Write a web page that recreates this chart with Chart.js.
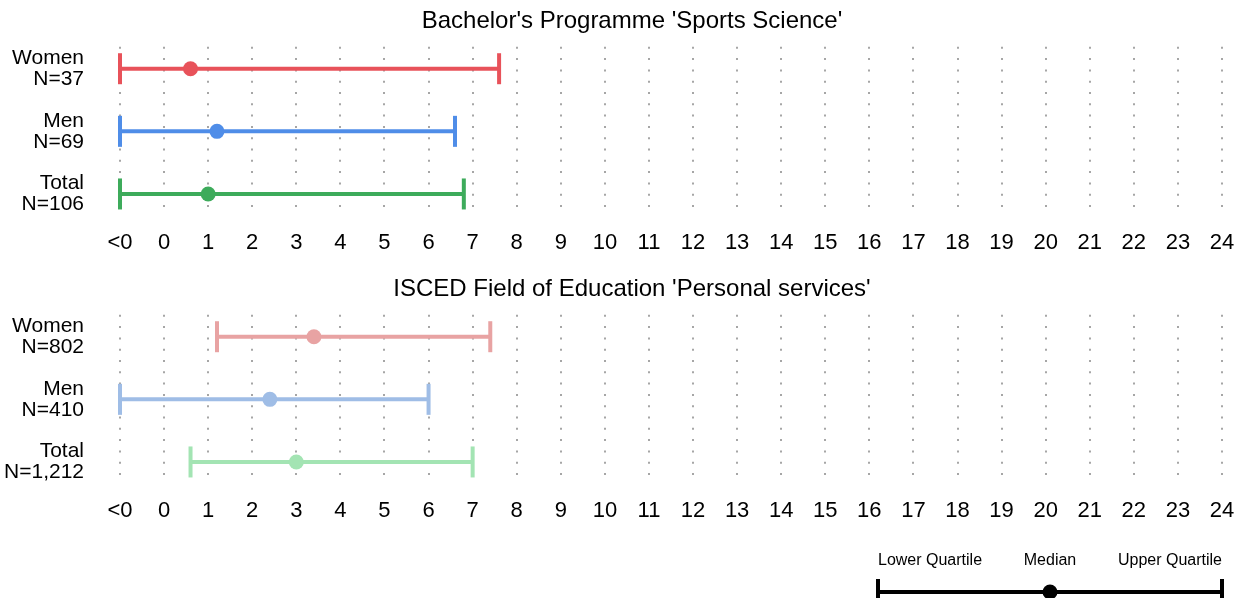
<!DOCTYPE html>
<html>
<head>
<meta charset="utf-8">
<script src="https://cdn.jsdelivr.net/npm/chart.js"></script>
<style>
  body { margin: 0; background: #fff; overflow: hidden; }
  .box { position: absolute; }
</style>
</head>
<body>
<div class="box" style="left:0;top:0;width:1241px;height:265px"><canvas id="panel1"></canvas></div>
<div class="box" style="left:0;top:268px;width:1241px;height:265px"><canvas id="panel2"></canvas></div>
<div class="box" style="left:860px;top:540px;width:381px;height:58px"><canvas id="key"></canvas></div>
<script>
// tick labels on the x axis (value -1 stands for "<0")
const xTickLabels = ['<0', '0', '1', '2', '3', '4', '5', '6', '7', '8', '9', '10', '11', '12',
    '13', '14', '15', '16', '17', '18', '19', '20', '21', '22', '23', '24'];

// panel 1: Bachelor's Programme 'Sports Science'
const title1 = "Bachelor's Programme 'Sports Science'";
const rows1 = [['Women', 'N=37'], ['Men', 'N=69'], ['Total', 'N=106']];
const lower1 = [-1, -1, -1];
const median1 = [0.6, 1.2, 1.0];
const upper1 = [7.6, 6.6, 6.8];
const colors1 = ['#e8525a', '#4f8de8', '#3dab5b'];

// panel 2: ISCED Field of Education 'Personal services'
const title2 = "ISCED Field of Education 'Personal services'";
const rows2 = [['Women', 'N=802'], ['Men', 'N=410'], ['Total', 'N=1,212']];
const lower2 = [1.2, -1, 0.6];
const median2 = [3.4, 2.4, 3.0];
const upper2 = [7.4, 6.0, 7.0];
const colors2 = ['#e8a3a3', '#9fbde6', '#a3e4b3'];

// key
const keyLabels = ['Lower Quartile', 'Median', 'Upper Quartile'];
const keyValues = [0, 0.5, 1];

const FONT = "'Liberation Sans', Arial, sans-serif";

// moves the title so it is centred a bit right of the canvas middle
const titleShift = {
    id: 'titleShift',
    afterLayout(chart) {
        if (chart.titleBlock) chart.titleBlock.left = 42;
    }
};

function rangeDatasets(lower, median, upper, colors) {
    const sets = [];
    // medians first so they are drawn on top
    sets.push({
        type: 'scatter',
        data: median.map((m, i) => ({ x: m, y: i + 1 })),
        pointRadius: 7.5,
        pointBorderWidth: 0,
        pointBackgroundColor: colors,
        clip: false
    });
    lower.forEach((lo, i) => {
        sets.push({
            type: 'line',
            data: [{ x: lo, y: i + 1 }, { x: upper[i], y: i + 1 }],
            borderColor: colors[i],
            borderWidth: 4,
            pointStyle: 'line',
            rotation: 90,
            pointRadius: 15.5,
            pointBorderWidth: 4,
            pointBorderColor: colors[i],
            clip: false
        });
    });
    return sets;
}

function makePanel(id, title, rows, lower, median, upper, colors) {
    const ctx = document.getElementById(id).getContext('2d');
    return new Chart(ctx, {
        type: 'scatter',
        data: { datasets: rangeDatasets(lower, median, upper, colors) },
        plugins: [titleShift],
        options: {
            responsive: true,
            maintainAspectRatio: false,
            animation: false,
            events: [],
            layout: { autoPadding: false, padding: { left: 0, right: 19, top: 0, bottom: 11 } },
            plugins: {
                legend: { display: false },
                tooltip: { enabled: false },
                title: {
                    display: true,
                    text: title,
                    color: '#000',
                    font: { family: FONT, size: 24, weight: 'normal', lineHeight: 1.2 },
                    padding: { top: 7, bottom: 11 }
                }
            },
            scales: {
                x: {
                    type: 'linear',
                    min: -1,
                    max: 24,
                    afterBuildTicks: scale => {
                        scale.ticks = xTickLabels.map((t, i) => ({ value: i - 1 }));
                    },
                    afterFit: scale => {
                        scale.height = 40;
                        scale.paddingLeft = 0;
                        scale.paddingRight = 0;
                    },
                    ticks: {
                        autoSkip: false,
                        maxRotation: 0,
                        padding: 16,
                        color: '#000',
                        font: { family: FONT, size: 22, lineHeight: 1.2 },
                        callback: v => xTickLabels[v + 1]
                    },
                    grid: { color: '#a6a6a6', lineWidth: 2, drawTicks: false },
                    border: { display: false, dash: [2, 9.3] }
                },
                y: {
                    type: 'linear',
                    reverse: true,
                    min: 0.65,
                    max: 3.32,
                    afterBuildTicks: scale => {
                        scale.ticks = rows.map((r, i) => ({ value: i + 1 }));
                    },
                    afterFit: scale => {
                        scale.width = 120;
                        scale.paddingTop = 0;
                        scale.paddingBottom = 0;
                    },
                    ticks: {
                        padding: 36,
                        color: '#000',
                        font: { family: FONT, size: 21, lineHeight: 1.0 },
                        callback: v => rows[v - 1]
                    },
                    grid: { display: false, drawTicks: false },
                    border: { display: false }
                }
            }
        }
    });
}

function makeKey() {
    const ctx = document.getElementById('key').getContext('2d');
    return new Chart(ctx, {
        type: 'scatter',
        data: {
            datasets: [
                {
                    data: [{ x: keyValues[1], y: 0.25 }],
                    pointRadius: 7.5,
                    pointBorderWidth: 0,
                    pointBackgroundColor: '#000',
                    clip: false
                },
                {
                    type: 'line',
                    data: [{ x: keyValues[0], y: 0.25 }, { x: keyValues[2], y: 0.25 }],
                    borderColor: '#000',
                    borderWidth: 4,
                    pointStyle: 'line',
                    rotation: 90,
                    pointRadius: 13,
                    pointBorderWidth: 4,
                    pointBorderColor: '#000',
                    clip: false
                }
            ]
        },
        options: {
            responsive: true,
            maintainAspectRatio: false,
            animation: false,
            events: [],
            layout: { autoPadding: false, padding: { left: 18, right: 19, top: 10, bottom: 0 } },
            plugins: { legend: { display: false }, tooltip: { enabled: false } },
            scales: {
                x: {
                    type: 'linear',
                    position: 'top',
                    min: 0,
                    max: 1,
                    afterBuildTicks: scale => {
                        scale.ticks = keyValues.map(v => ({ value: v }));
                    },
                    ticks: {
                        align: 'inner',
                        autoSkip: false,
                        maxRotation: 0,
                        padding: 4,
                        color: '#000',
                        font: { family: FONT, size: 16, lineHeight: 1.2 },
                        callback: v => keyLabels[keyValues.indexOf(v)]
                    },
                    grid: { display: false, drawTicks: false },
                    border: { display: false }
                },
                y: { display: false, min: 0, max: 1 }
            }
        }
    });
}

makePanel('panel1', title1, rows1, lower1, median1, upper1, colors1);
makePanel('panel2', title2, rows2, lower2, median2, upper2, colors2);
makeKey();
</script>
</body>
</html>
